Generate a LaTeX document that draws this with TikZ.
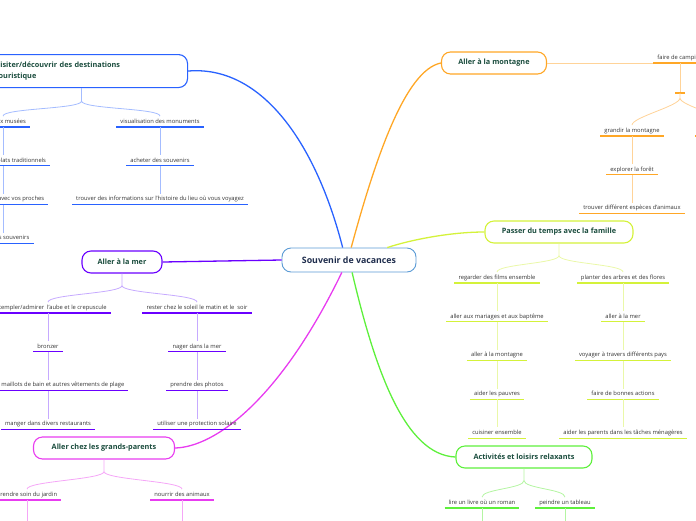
\documentclass[tikz,border=0pt]{standalone}
\usepackage{fontspec}
\setmainfont{Open Sans}
\usetikzlibrary{positioning,calc}

\definecolor{hubblue}{HTML}{5B9BD5}
\definecolor{hubtext}{HTML}{1F2D4D}
\definecolor{titlegreen}{HTML}{1B4D3E}
\definecolor{leafgray}{HTML}{333333}
\definecolor{cblue}{HTML}{2962FF}
\definecolor{lblue}{HTML}{A4BCFF}
\definecolor{cpurple}{HTML}{6A00FF}
\definecolor{lpurple}{HTML}{C6AAFF}
\definecolor{cmagenta}{HTML}{E83CF0}
\definecolor{lmagenta}{HTML}{F5A6F7}
\definecolor{corange}{HTML}{FFA726}
\definecolor{lorange}{HTML}{FFD398}
\definecolor{clime}{HTML}{D4F23A}
\definecolor{llime}{HTML}{EAF8A8}
\definecolor{cgreen}{HTML}{5EF03C}
\definecolor{lgreen}{HTML}{B4F5A2}

\begin{document}
\begin{tikzpicture}[
  x=1pt, y=-1pt,
  node distance=27.9pt,
  hub/.style={
    draw=hubblue,
    line width=0.9pt,
    fill=white,
    rounded corners=9pt,
    minimum width=134pt,
    minimum height=24pt,
    text=hubtext,
    font=\bfseries\fontsize{8.8}{10}\selectfont
  },
  topic/.style={
    draw=#1,
    line width=1.1pt,
    fill=white,
    rounded corners=9pt,
    minimum height=22pt,
    text=titlegreen,
    font=\bfseries\fontsize{7.3}{11.5}\selectfont
  },
  leaf/.style={
    text=leafgray,
    font=\fontsize{5.8}{7}\selectfont,
    text height=5pt,
    text depth=1.5pt,
    inner ysep=2pt,
    inner xsep=4pt,
    append after command={(\tikzlastnode.south west) edge[draw=#1,line width=1.3pt] (\tikzlastnode.south east)}
  },
  branch/.style={draw=#1,line width=1.3pt},
  twig/.style={draw=#1,line width=0.8pt}
]
  \useasboundingbox (0,0) rectangle (696,520);
  \clip (0,0) rectangle (696,520);

  % centre and main topics
  \node[hub] (souvenir) at (349,260) {Souvenir de vacances};
  \node[topic=cblue,anchor=north west,text width=172pt,align=left,
    inner xsep=20pt,minimum height=33pt] (visiter) at (-25,54)
    {Visiter/découvrir des destinations\\touristique};
  \node[topic=cpurple,minimum width=80pt] (mer) at (122,262) {Aller à la mer};
  \node[topic=cmagenta,minimum width=141pt] (grands) at (104,448) {Aller chez les grands-parents};
  \node[topic=corange,minimum width=105pt] (montagne) at (494,63) {Aller à la montagne};
  \node[topic=clime,minimum width=148pt] (famille) at (559,232) {Passer du temps avec la famille};
  \node[topic=cgreen,minimum width=136pt] (activites) at (524,457) {Activités et loisirs relaxants};

  \draw[branch=cblue] (souvenir.117) .. controls (315,140) and (260,65) .. (visiter.east);
  \draw[branch=corange] (souvenir.80) .. controls (375,160) and (405,70) .. (montagne.west);
  \draw[branch=clime] (souvenir.18) .. controls (410,240) and (450,232) .. (famille.west);
  \draw[branch=cpurple] (souvenir.west) -- (mer.east);
  \draw[branch=cmagenta] (souvenir.240) .. controls (280,400) and (215,447) .. (grands.east);
  \draw[branch=cgreen] (souvenir.284) .. controls (375,370) and (405,455) .. (activites.west);

  % visiter
  \coordinate (visiter-fork) at ($(visiter.south)+(0,13)$);
  \node[leaf=cblue,anchor=south] (musees) at (3,127) {aller aux musées};
  \node[leaf=cblue,below=of musees] (plats) {goûter divers plats traditionnels};
  \node[leaf=cblue,below=of plats] (proches) {se promener avec vos proches};
  \node[leaf=cblue,below=of proches] (creer) {créer des souvenirs};
  \node[leaf=cblue,anchor=south] (monuments) at (160,127) {visualisation des monuments};
  \node[leaf=cblue,below=of monuments] (acheter) {acheter des souvenirs};
  \node[leaf=cblue,below=of acheter] (infos) {trouver des informations sur l'histoire du lieu où vous voyagez};
  \draw[twig=lblue] (visiter.south) -- (visiter-fork)
    .. controls +(0,8) and +(0,-8) .. (musees.north)
    (visiter-fork) .. controls +(0,8) and +(0,-8) .. (monuments.north);
  \draw[twig=lblue] (musees) -- (plats) -- (proches) -- (creer);
  \draw[twig=lblue] (monuments) -- (acheter) -- (infos);

  % mer
  \coordinate (mer-fork) at ($(mer.south)+(0,12)$);
  \node[leaf=cpurple,anchor=south] (aube) at (48,313) {contempler/admirer \ l'aube et le crepuscule};
  \node[leaf=cpurple,below=of aube] (bronzer) {bronzer};
  \node[leaf=cpurple,below=of bronzer] (maillots) {porter des maillots de bain et autres vêtements de plage};
  \node[leaf=cpurple,below=of maillots] (restaurants) {manger dans divers restaurants};
  \node[leaf=cpurple,anchor=south] (soleil) at (197,313) {rester chez le soleil le matin et le \ soir};
  \node[leaf=cpurple,below=of soleil] (nager) {nager dans la mer};
  \node[leaf=cpurple,below=of nager] (photos) {prendre des photos};
  \node[leaf=cpurple,below=of photos] (solaire) {utiliser une protection solaire};
  \draw[twig=lpurple] (mer.south) -- (mer-fork)
    .. controls +(0,8) and +(0,-8) .. (aube.north)
    (mer-fork) .. controls +(0,8) and +(0,-8) .. (soleil.north);
  \draw[twig=lpurple] (aube) -- (bronzer) -- (maillots) -- (restaurants);
  \draw[twig=lpurple] (soleil) -- (nager) -- (photos) -- (solaire);

  % grands-parents
  \coordinate (grands-fork) at ($(grands.south)+(0,12)$);
  \node[leaf=cmagenta,anchor=south] (jardin) at (27,500) {prendre soin du jardin};
  \node[leaf=cmagenta,anchor=south] (animaux) at (182,500) {nourrir des animaux};
  \coordinate (jardin-next) at (27,540);
  \coordinate (animaux-next) at (182,540);
  \draw[twig=lmagenta] (grands.south) -- (grands-fork)
    .. controls +(0,8) and +(0,-8) .. (jardin.north)
    (grands-fork) .. controls +(0,8) and +(0,-8) .. (animaux.north);
  \draw[twig=lmagenta] (jardin) -- (jardin-next);
  \draw[twig=lmagenta] (animaux) -- (animaux-next);

  % montagne
  \node[leaf=corange,anchor=south] (camping) at (680,63) {faire de camping};
  \coordinate (camping-bar) at (680,93);
  \coordinate (camping-fork) at (680,98);
  \node[leaf=corange,anchor=south] (grandir) at (632,136) {grandir la montagne};
  \node[leaf=corange,below=of grandir] (foret) {explorer la forêt};
  \node[leaf=corange,below=of foret] (especes) {trouver différent espèces d'animaux};
  \node[leaf=corange,anchor=south,minimum width=70pt] (campright) at (730,136) {};
  \draw[twig=lorange] (montagne.east) -- (camping.south west);
  \draw[twig=lorange] (camping) -- (camping-bar);
  \draw[corange,line width=1.2pt] ($(camping-bar)+(-5,0)$) -- ($(camping-bar)+(5,0)$);
  \draw[twig=lorange] (camping-bar) -- (camping-fork)
    .. controls +(0,8) and +(0,-8) .. (grandir.north)
    (camping-fork) .. controls +(0,8) and +(0,-8) .. (campright.north);
  \draw[twig=lorange] (grandir) -- (foret) -- (especes);

  % famille
  \coordinate (famille-fork) at ($(famille.south)+(0,12)$);
  \node[leaf=clime,anchor=south] (films) at (497,283) {regarder des films ensemble};
  \node[leaf=clime,below=of films] (mariages) {aller aux mariages et aux baptême};
  \node[leaf=clime,below=of mariages] (famontagne) {aller à la montagne};
  \node[leaf=clime,below=of famontagne] (pauvres) {aider les pauvres};
  \node[leaf=clime,below=of pauvres] (cuisiner) {cuisiner ensemble};
  \node[leaf=clime,anchor=south] (planter) at (623,283) {planter des arbres et des flores};
  \node[leaf=clime,below=of planter] (famer) {aller à la mer};
  \node[leaf=clime,below=of famer] (voyager) {voyager à travers différents pays};
  \node[leaf=clime,below=of voyager] (actions) {faire de bonnes actions};
  \node[leaf=clime,below=of actions] (parents) {aider les parents dans les tâches ménagères};
  \draw[twig=llime] (famille.south) -- (famille-fork)
    .. controls +(0,8) and +(0,-8) .. (films.north)
    (famille-fork) .. controls +(0,8) and +(0,-8) .. (planter.north);
  \draw[twig=llime] (films) -- (mariages) -- (famontagne) -- (pauvres) -- (cuisiner);
  \draw[twig=llime] (planter) -- (famer) -- (voyager) -- (actions) -- (parents);

  % activites
  \coordinate (activites-fork) at ($(activites.south)+(0,12)$);
  \node[leaf=cgreen,anchor=south] (livre) at (482,508) {lire un livre où un roman};
  \node[leaf=cgreen,anchor=south] (tableau) at (565,508) {peindre un tableau};
  \coordinate (livre-next) at (482,540);
  \coordinate (tableau-next) at (565,540);
  \draw[twig=lgreen] (activites.south) -- (activites-fork)
    .. controls +(0,8) and +(0,-8) .. (livre.north)
    (activites-fork) .. controls +(0,8) and +(0,-8) .. (tableau.north);
  \draw[twig=lgreen] (livre) -- (livre-next);
  \draw[twig=lgreen] (tableau) -- (tableau-next);
\end{tikzpicture}
\end{document}
